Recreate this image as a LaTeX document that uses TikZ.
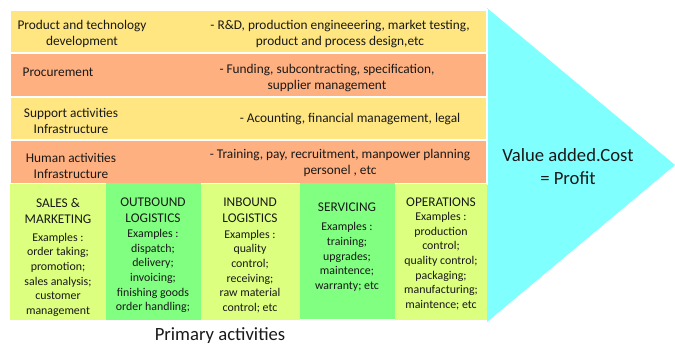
\documentclass[tikz,border=0pt]{standalone}
\usepackage{fontspec}
\setmainfont{Carlito}
\usetikzlibrary{positioning}
\definecolor{chainYellow}{RGB}{255, 230, 128}
\definecolor{chainSalmon}{RGB}{255, 176, 128}
\definecolor{chainLime}{RGB}{221, 255, 128}
\definecolor{chainGreen}{RGB}{128, 255, 128}
\definecolor{chainCyan}{RGB}{128, 255, 255}
\definecolor{chainText}{RGB}{25, 25, 25}

\tikzset{
  band/.style={draw=white, line width=1pt},
  bandtext/.style={align=center, inner sep=0pt, text=chainText, font=\fontsize{10}{12.5}\selectfont},
  colhead/.style={align=center, inner sep=0pt, text=chainText, font=\fontsize{10}{11.8}\selectfont},
  colbody/.style={align=center, inner sep=0pt, text=chainText, font=\fontsize{8.9}{11}\selectfont},
  bigtext/.style={align=center, inner sep=0pt, text=chainText, font=\fontsize{14}{17.3}\selectfont}
}

\begin{document}
\begin{tikzpicture}[x=0.75pt, y=-0.75pt]
        \useasboundingbox (0,0) rectangle (675,347);

        % margin arrow
        \fill[chainCyan] (487,8) -- (675,165) -- (487,322) -- cycle;
        \node[bigtext] (profit) at (568,167) {Value added.Cost\\= Profit};

        % support activities
        \path[band, fill=chainYellow] (10,10) rectangle (487,53);
        \path[band, fill=chainSalmon] (10,53) rectangle (487,97);
        \path[band, fill=chainYellow] (10,97) rectangle (487,140);
        \path[band, fill=chainSalmon] (10,140) rectangle (487,184);

        \node[bandtext] (techL) at (82,34) {Product and technology\\development};
        \node[bandtext] (techR) at (340,34) {- R\&D, production engineeering, market testing,\\product and process design,etc};
        \node[bandtext] (procL) at (58,72) {Procurement};
        \node[bandtext] (procR) at (327,78) {- Funding, subcontracting, specification,\\supplier management};
        \node[bandtext] (infraL) at (71,121) {Support activities\\Infrastructure};
        \node[bandtext] (infraR) at (350,119) {- Acounting, financial management, legal};
        \node[bandtext] (hrL) at (71,166) {Human activities\\Infrastructure};
        \node[bandtext] (hrR) at (340,163) {- Training, pay, recruitment, manpower planning\\personel , etc};

        % primary activities
        \fill[chainLime] (10,184) rectangle (106,320);
        \fill[chainGreen] (106,183) rectangle (201,320);
        \fill[chainLime] (201,184) rectangle (300,320);
        \fill[chainGreen] (300,183) rectangle (395,319);
        \fill[chainLime] (395,184) rectangle (487,320);

        \node[colhead, anchor=north] (salesH) at (58,198) {SALES \&\\MARKETING};
        \node[colbody, below=7pt of salesH] (salesB) {Examples :\\order taking;\\promotion;\\sales analysis;\\customer\\management};
        \node[colhead, anchor=north] (outH) at (153,198) {OUTBOUND\\LOGISTICS};
        \node[colbody, below=4.5pt of outH] (outB) {Examples :\\dispatch;\\delivery;\\invoicing;\\finishing goods\\order handling;};
        \node[colhead, anchor=north] (inH) at (250,198) {INBOUND\\LOGISTICS};
        \node[colbody, below=5pt of inH] (inB) {Examples :\\quality\\control;\\receiving;\\raw material\\control; etc};
        \node[colhead, anchor=north] (servH) at (347,203) {SERVICING};
        \node[colbody, below=7.5pt of servH] (servB) {Examples :\\training;\\upgrades;\\maintence;\\warranty; etc};
        \node[colhead, anchor=north] (opsH) at (441,198) {OPERATIONS};
        \node[colbody, below=3.5pt of opsH] (opsB) {Examples :\\production\\control;\\quality control;\\packaging;\\manufacturing;\\maintence; etc};

        \node[bigtext] (primary) at (220,336) {Primary activities};
    \end{tikzpicture}
\end{document}
